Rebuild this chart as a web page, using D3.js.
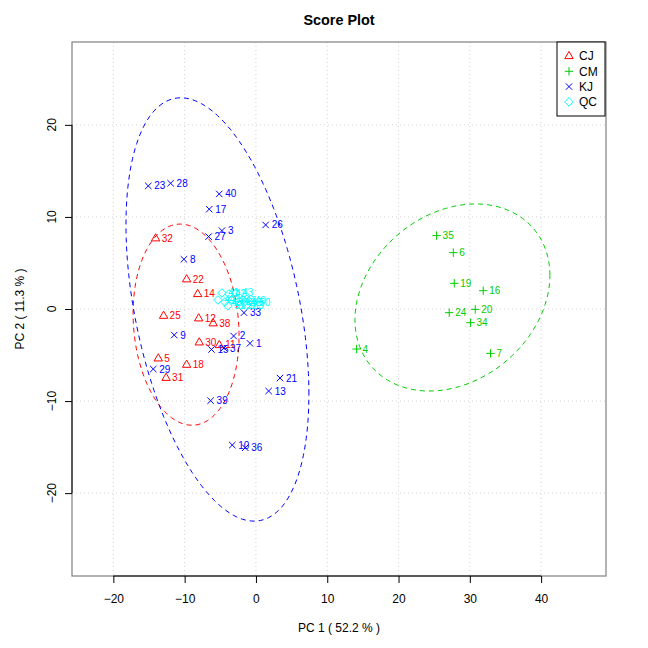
<!DOCTYPE html>
<html><head><meta charset="utf-8">
<script src="https://cdn.jsdelivr.net/npm/d3@7"></script>
<style>body{margin:0;background:#fff}svg{display:block}text{font-family:"Liberation Sans",Arial,sans-serif}</style>
</head><body>
<svg id="c" width="648" height="648"></svg>
<script>
// ---- data ----
const groups = ["CJ", "CM", "KJ", "QC"];
const groupColors = ["#FF0000", "#00CD00", "#0000FF", "#00FFFF"];

const cjIds = ["32","22","14","25","12","38","30","11","5","18","31"];
const cjPC1 = [-14.07,-9.72,-8.17,-12.95,-8.03,-6.0,-7.95,-5.14,-13.7,-9.72,-12.6];
const cjPC2 = [7.68,3.23,1.63,-0.73,-1.01,-1.55,-3.62,-3.91,-5.36,-6.05,-7.47];

const cmIds = ["35","6","19","16","24","20","34","4","7"];
const cmPC1 = [25.34,27.68,27.82,31.88,27.11,30.76,30.1,14.12,32.9];
const cmPC2 = [7.97,6.12,2.79,1.99,-0.4,-0.04,-1.49,-4.35,-4.82];

const kjIds = ["23","28","40","17","26","3","27","8","33","9","2","1","15","37","29","21","13","39","10","36"];
const kjPC1 = [-15.1,-11.97,-5.15,-6.55,1.36,-4.77,-6.64,-10.1,-1.68,-11.46,-3.13,-0.84,-6.24,-4.49,-14.4,3.37,1.78,-6.36,-3.32,-1.5];
const kjPC2 = [13.37,13.66,12.5,10.84,9.13,8.51,7.86,5.4,-0.4,-2.83,-2.93,-3.73,-4.4,-4.24,-6.52,-7.5,-8.91,-9.96,-14.78,-15.07];

const qcIds = ["41","42","43","44","45","46","47","48","49","50","51","52","53"];
const qcPC1 = [-4.77,-3.79,-2.81,-5.33,-4.35,-3.37,-2.38,-1.6,-1.0,-0.4,-3.93,-2.2,-1.3];
const qcPC2 = [1.74,1.63,1.74,0.98,0.76,0.98,0.87,0.76,0.87,0.76,0.33,0.43,0.43];

// confidence ellipses (CJ, CM, KJ): centre and spread matrix, in PC units
const ellGroups = ["CJ", "CM", "KJ"];
const ellCx = [-9.8, 27.56, -5.4];
const ellCy = [-1.7, 1.25, -0.05];
const ellVarX = [55.2, 186.9, 164.6];
const ellVarY = [119.3, 103.2, 528.5];
const ellCov = [-9, 33, -118];

const xTicks = [-20, -10, 0, 10, 20, 30, 40];
const yTicks = [-20, -10, 0, 10, 20];
const xDomain = [-25.8, 49.1];
const yDomain = [-29.0, 29.0];

const titleText = "Score Plot";
const xLabel = "PC 1 ( 52.2 % )";
const yLabel = "PC 2 ( 11.3 % )";

// ---- drawing ----
const svg = d3.select("#c");
const L = 72, R = 606, T = 42, B = 576;
const x = d3.scaleLinear().domain(xDomain).range([L, R]);
const y = d3.scaleLinear().domain(yDomain).range([B, T]);
const color = d3.scaleOrdinal().domain(groups).range(groupColors);

// grid
svg.append("g").selectAll("line").data(xTicks).join("line")
  .attr("x1", d => x(d)).attr("x2", d => x(d)).attr("y1", T).attr("y2", B)
  .attr("stroke", "#D3D3D3").attr("stroke-dasharray", "1,3");
svg.append("g").selectAll("line").data(yTicks).join("line")
  .attr("y1", d => y(d)).attr("y2", d => y(d)).attr("x1", L).attr("x2", R)
  .attr("stroke", "#D3D3D3").attr("stroke-dasharray", "1,3");

// box
svg.append("rect").attr("x", L).attr("y", T).attr("width", R - L).attr("height", B - T)
  .attr("fill", "none").attr("stroke", "#808080").attr("stroke-width", 1.2);

// axes
const gx = svg.append("g").attr("transform", `translate(0,${B})`)
  .call(d3.axisBottom(x).tickValues(xTicks).tickSize(7).tickPadding(11).tickFormat(d3.format("d")));
gx.select(".domain").remove();
gx.append("line").attr("x1", x(xTicks[0])).attr("x2", x(xTicks[xTicks.length - 1]))
  .attr("stroke", "#000");
gx.selectAll("text").attr("font-size", 12).attr("fill", "#000")
  .attr("font-family", "'Liberation Sans', Arial, sans-serif");

const gy = svg.append("g").attr("transform", `translate(${L},0)`)
  .call(d3.axisLeft(y).tickValues(yTicks).tickSize(7).tickFormat(""));
gy.select(".domain").remove();
gy.append("line").attr("y1", y(yTicks[0])).attr("y2", y(yTicks[yTicks.length - 1]))
  .attr("stroke", "#000");
svg.append("g").selectAll("text").data(yTicks).join("text")
  .attr("transform", d => `translate(52,${y(d)}) rotate(-90)`)
  .attr("text-anchor", "middle").attr("dy", "0.35em").attr("font-size", 12)
  .text(d => d3.format("d")(d));

// titles
svg.append("text").attr("x", (L + R) / 2).attr("y", 25).attr("text-anchor", "middle")
  .attr("font-size", 14.4).attr("font-weight", "bold").text(titleText);
svg.append("text").attr("x", (L + R) / 2).attr("y", 632).attr("text-anchor", "middle")
  .attr("font-size", 12).text(xLabel);
svg.append("text").attr("transform", `translate(20,${(T + B) / 2}) rotate(-90)`)
  .attr("text-anchor", "middle").attr("dy", "0.35em").attr("font-size", 12).text(yLabel);

// plotting area clip
svg.append("clipPath").attr("id", "clip").append("rect")
  .attr("x", L).attr("y", T).attr("width", R - L).attr("height", B - T);
const plot = svg.append("g").attr("clip-path", "url(#clip)");

// ellipses
const ellData = ellGroups.map((g, i) => {
  const l11 = Math.sqrt(ellVarX[i]);
  const l21 = ellCov[i] / l11;
  const l22 = Math.sqrt(ellVarY[i] - l21 * l21);
  return { g, cx: ellCx[i], cy: ellCy[i], l11, l21, l22 };
});
const tt = d3.range(0, 2 * Math.PI + 0.001, Math.PI / 90);
const lineGen = d3.line().x(p => x(p[0])).y(p => y(p[1]));
plot.selectAll("path.ell").data(ellData).join("path").attr("class", "ell")
  .attr("d", e => lineGen(tt.map(t => [e.cx + e.l11 * Math.cos(t),
                                        e.cy + e.l21 * Math.cos(t) + e.l22 * Math.sin(t)])) + "Z")
  .attr("fill", "none").attr("stroke", e => color(e.g)).attr("stroke-width", 1)
  .attr("stroke-dasharray", "5,4");

// points
const pts = [];
const add = (g, ids, xs, ys) => ids.forEach((id, i) => pts.push({ g, id, px: xs[i], py: ys[i] }));
add("CJ", cjIds, cjPC1, cjPC2);
add("CM", cmIds, cmPC1, cmPC2);
add("KJ", kjIds, kjPC1, kjPC2);
add("QC", qcIds, qcPC1, qcPC2);

const shape = {
  CJ: "M0,-4.6L4.2,2.6L-4.2,2.6Z",
  CM: "M-4.2,0H4.2M0,-4.2V4.2",
  KJ: "M-3.2,-3.2L3.2,3.2M-3.2,3.2L3.2,-3.2",
  QC: "M0,-4.3L4.3,0L0,4.3L-4.3,0Z"
};

const pg = plot.append("g");
pg.selectAll("path").data(pts).join("path")
  .attr("transform", d => `translate(${x(d.px)},${y(d.py)})`)
  .attr("d", d => shape[d.g]).attr("fill", "none")
  .attr("stroke", d => color(d.g)).attr("stroke-width", 1);
pg.selectAll("text").data(pts).join("text")
  .attr("x", d => x(d.px) + 6).attr("y", d => y(d.py)).attr("dy", "0.35em")
  .attr("font-size", 10).attr("fill", d => color(d.g)).text(d => d.id);

// legend
const lx = 557, ly = 42, lw = 48, lh = 74;
const lg = svg.append("g");
lg.append("rect").attr("x", lx).attr("y", ly).attr("width", lw).attr("height", lh)
  .attr("fill", "#fff").attr("stroke", "#000");
const items = lg.selectAll("g").data(groups).join("g")
  .attr("transform", (d, i) => `translate(${lx + 12},${ly + 14 + i * 15.3})`);
items.append("path").attr("d", d => shape[d]).attr("fill", "none")
  .attr("stroke", d => color(d)).attr("stroke-width", 1);
items.append("text").attr("x", 10).attr("dy", "0.35em").attr("font-size", 12).text(d => d);
</script>
</body></html>
